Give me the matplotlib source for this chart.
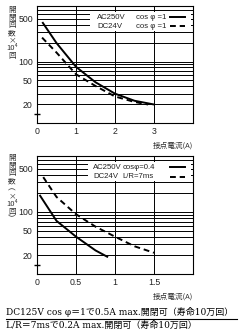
import matplotlib
matplotlib.use("Agg")
import matplotlib.pyplot as plt
from matplotlib.patches import Rectangle

plt.rcParams['font.family'] = ['Liberation Sans', 'Noto Sans CJK JP', 'DejaVu Sans']

# ---- data ----
top_ac_x = [0.15, 0.5, 1.0, 1.5, 2.0, 2.5, 3.0]
top_ac_y = [425, 200, 82, 46, 30, 23, 20]
top_dc_x = [0.13, 0.5, 1.0, 1.5, 2.0, 2.5, 2.85]
top_dc_y = [245, 140, 62, 40, 27, 22, 20]

bot_ac_x = [0.04, 0.25, 0.5, 0.75, 0.9]
bot_ac_y = [183, 72, 40, 24, 19]
bot_dc_x = [0.08, 0.25, 0.5, 0.75, 1.0, 1.25, 1.5]
bot_dc_y = [365, 175, 92, 58, 40, 28, 22]

top_xticks = [0, 1, 2, 3]
top_xticklabels = ['0', '1', '2', '3']
bot_xticks = [0, 0.5, 1, 1.5]
bot_xticklabels = ['0', '0.5', '1', '1.5']
yticks = [20, 50, 100, 500]
yticklabels = ['20', '50', '100', '500']
ygrid = [20, 30, 40, 50, 60, 70, 80, 90, 100, 200, 300, 400, 500, 600, 700, 800]

top_legend = [('AC250V', 'cos \u03c6 =1', '-'), ('DC24V', 'cos \u03c6 =1', '--')]
bot_legend = [('AC250V', 'cos\u03c6=0.4', '-'), ('DC24V', 'L/R=7ms', '--')]

top_ylabel = "開\n閉\n回\n数\n×\n10⁴\n回"
bot_ylabel = "開\n閉\n回\n数\n︵\n×\n10⁴\n回\n︶"
xlabel = "接点電流(A)"
note1 = "DC125V cos \u03c6＝1で0.5A max.開閉可（寿命10万回）"
note2 = "L/R＝7msで0.2A max.開閉可（寿命10万回）"

W, H = 243, 333
fig = plt.figure(figsize=(W / 100, H / 100), dpi=100)


def make_axes(rect, xmax, xticks, xticklabels, ac, dc, legend, ylabel, lab_y,
              xa, xb, box_x):
    ax = fig.add_axes(rect)
    ax.set_yscale('log')
    ax.set_ylim(10, 800)
    ax.set_xlim(0, xmax)
    for g in ygrid:
        ax.axhline(g, color='black', lw=0.7, zorder=1)
    for t in xticks[1:]:
        ax.axvline(t, color='black', lw=0.7, zorder=1)
    ax.set_yticks(yticks)
    ax.set_yticklabels(yticklabels)
    ax.yaxis.set_minor_locator(matplotlib.ticker.NullLocator())
    ax.set_xticks(xticks)
    ax.set_xticklabels(xticklabels)
    ax.tick_params(length=0, labelsize=6.3, pad=3, colors='#222222')
    for s in ax.spines.values():
        s.set_linewidth(0.8)
    # legend box
    ax.add_patch(Rectangle((box_x, 0.79), 0.985 - box_x, 0.155, transform=ax.transAxes,
                           facecolor='white', edgecolor='none', zorder=2))
    for i, (a, b, ls) in enumerate(legend):
        yy = 0.905 - i * 0.08
        ax.text(xa, yy, a, transform=ax.transAxes, fontsize=5.6, va='center',
                zorder=3, color='#222222')
        ax.text(xb, yy, b, transform=ax.transAxes, fontsize=5.6,
                va='center', zorder=3, color='#222222')
        ax.plot([0.85, 0.95], [yy, yy], transform=ax.transAxes, color='black',
                lw=1.4, ls=ls, dashes=(3, 2) if ls == '--' else (None, None), zorder=3)
    ax.plot(ac[0], ac[1], color='black', lw=1.4, zorder=4)
    ax.plot(dc[0], dc[1], color='black', lw=1.4, ls='--', dashes=(3, 2), zorder=4)
    # axis break mark
    ax.plot([0], [14], marker='_', markersize=4, color='black', clip_on=False, zorder=5)
    ax.text(1.0, -0.19, xlabel, transform=ax.transAxes, ha='right', va='center',
            fontsize=5.5, color='#333333', family=['Noto Sans CJK JP', 'DejaVu Sans'])
    fig.text(12 / W, lab_y, ylabel, ha='center', va='top', fontsize=5.5,
             linespacing=0.95, color='#333333', family=['Noto Sans CJK JP', 'DejaVu Sans'])
    return ax


make_axes([37 / W, 1 - 123 / H, 156 / W, 117 / H], 4, top_xticks, top_xticklabels,
          (top_ac_x, top_ac_y), (top_dc_x, top_dc_y), top_legend, top_ylabel, 1 - 6 / H,
          0.385, 0.635, 0.34)
make_axes([37 / W, 1 - 274 / H, 156 / W, 118 / H], 2, bot_xticks, bot_xticklabels,
          (bot_ac_x, bot_ac_y), (bot_dc_x, bot_dc_y), bot_legend, bot_ylabel, 1 - 154 / H,
          0.36, 0.55, 0.33)

serif = ['DejaVu Serif', 'Noto Sans CJK JP']
fig.text(6 / W, 1 - 312 / H, note1, fontsize=6.45, va='center', family=serif)
fig.text(6 / W, 1 - 325 / H, note2, fontsize=6.45, va='center', family=serif)
fig.add_artist(plt.Line2D([6 / W, 237 / W], [1 - 318.5 / H, 1 - 318.5 / H],
                          color='black', lw=0.8))

fig.savefig('out.png', dpi=100)
